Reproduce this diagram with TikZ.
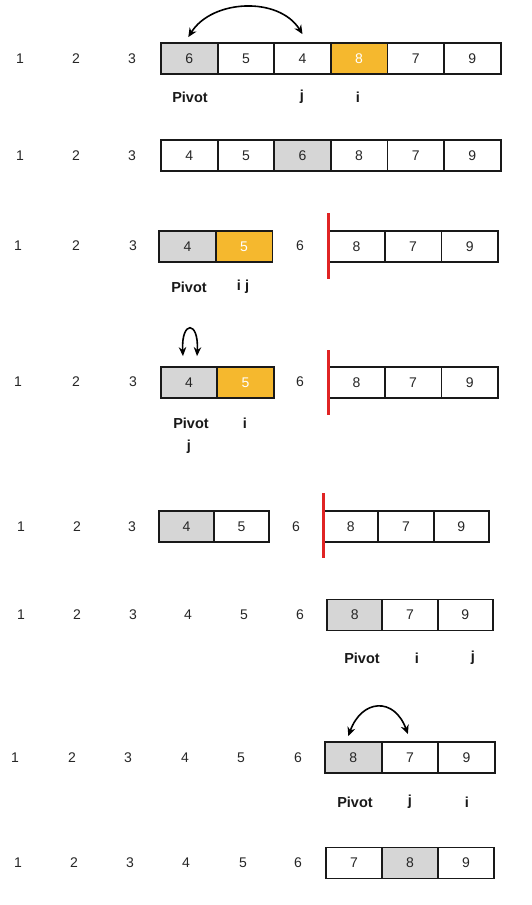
\documentclass[tikz,border=0pt]{standalone}
\usepackage{fontspec}
\setmainfont{Liberation Sans}
\usetikzlibrary{arrows.meta}
\definecolor{pivgray}{HTML}{D6D6D6}
\definecolor{swaporange}{HTML}{F5B82E}
\definecolor{cutred}{HTML}{E02424}
\begin{document}
\begin{tikzpicture}[x=1pt,y=-1pt,
  cellbox/.style={draw=black!90,line width=1.8pt,minimum width=56.6pt,minimum height=31pt,inner sep=0pt,font=\fontsize{14}{16}\selectfont,text=black!85},
  gcell/.style={cellbox,fill=pivgray},
  ocell/.style={cellbox,fill=swaporange,text=white},
  numtxt/.style={inner sep=0pt,font=\fontsize{14}{16}\selectfont,text=black!85},
  labtxt/.style={inner sep=0pt,font=\fontsize{14.5}{17}\selectfont\bfseries,text=black!90},
  swaparr/.style={line width=1.6pt,{Stealth[length=9pt,width=8pt]}-{Stealth[length=9pt,width=8pt]}},
  looparr/.style={line width=1.6pt,{Stealth[length=9pt,width=7.5pt]}-{Stealth[length=9pt,width=7.5pt]}},
  cutline/.style={draw=cutred,line width=2.2pt}]
\useasboundingbox[fill=white] (0,0) rectangle (531,905);

% ---------- Row 1 ----------
\node[numtxt] (r1n1) at (20,59) {1};
\node[numtxt] (r1n2) at (76,59) {2};
\node[numtxt] (r1n3) at (132,59) {3};
\node[gcell] (r1c1) at (189.3,58.5) {6};
\node[cellbox] (r1c2) at (245.9,58.5) {5};
\node[cellbox] (r1c3) at (302.5,58.5) {4};
\node[ocell] (r1c4) at (359.1,58.5) {8};
\node[cellbox] (r1c5) at (415.7,58.5) {7};
\node[cellbox] (r1c6) at (472.3,58.5) {9};
\node[labtxt] (r1p) at (190,97) {Pivot};
\node[labtxt] (r1j) at (302,97) {j};
\node[labtxt] (r1i) at (358,97) {i};
\draw[swaparr] ([xshift=-1pt,yshift=5pt]r1c1.north) to[out=58,in=122] ([yshift=8pt]r1c3.north);

% ---------- Row 2 ----------
\node[numtxt] (r2n1) at (20,156) {1};
\node[numtxt] (r2n2) at (76,156) {2};
\node[numtxt] (r2n3) at (132,156) {3};
\node[cellbox] (r2c1) at (189.3,155.5) {4};
\node[cellbox] (r2c2) at (245.9,155.5) {5};
\node[gcell] (r2c3) at (302.5,155.5) {6};
\node[cellbox] (r2c4) at (359.1,155.5) {8};
\node[cellbox] (r2c5) at (415.7,155.5) {7};
\node[cellbox] (r2c6) at (472.3,155.5) {9};

% ---------- Row 3 ----------
\node[numtxt] (r3n1) at (18,246) {1};
\node[numtxt] (r3n2) at (76,246) {2};
\node[numtxt] (r3n3) at (133,246) {3};
\node[gcell] (r3c1) at (187.5,246.5) {4};
\node[ocell] (r3c2) at (244.1,246.5) {5};
\node[numtxt] (r3n6) at (300,246) {6};
\node[cellbox] (r3c4) at (356.5,246.5) {8};
\node[cellbox] (r3c5) at (413.1,246.5) {7};
\node[cellbox] (r3c6) at (469.7,246.5) {9};
\coordinate (r3top) at (328.5,213);
\coordinate (r3bot) at (328.5,279);
\draw[cutline] (r3top) -- (r3bot);
\node[labtxt] (r3p) at (189,287) {Pivot};
\node[labtxt] (r3ij) at (243,287) {i j};

% ---------- Row 4 ----------
\node[numtxt] (r4n1) at (18,382) {1};
\node[numtxt] (r4n2) at (76,382) {2};
\node[numtxt] (r4n3) at (133,382) {3};
\node[gcell] (r4c1) at (189,382.5) {4};
\node[ocell] (r4c2) at (245.6,382.5) {5};
\node[numtxt] (r4n6) at (300,382) {6};
\node[cellbox] (r4c4) at (356.5,382.5) {8};
\node[cellbox] (r4c5) at (413.1,382.5) {7};
\node[cellbox] (r4c6) at (469.7,382.5) {9};
\coordinate (r4top) at (328.5,350);
\coordinate (r4bot) at (328.5,415);
\draw[cutline] (r4top) -- (r4bot);
\coordinate (r4a) at ([xshift=-6pt,yshift=10pt]r4c1.north);
\coordinate (r4b) at ([xshift=8pt,yshift=10pt]r4c1.north);
\draw[looparr] (r4a) .. controls ([xshift=-2pt,yshift=36pt]r4a) and ([xshift=2pt,yshift=36pt]r4b) .. (r4b);
\node[labtxt] (r4p) at (191,423) {Pivot};
\node[labtxt] (r4i) at (245,423) {i};
\node[labtxt] (r4j) at (189,447) {j};

% ---------- Row 5 ----------
\node[numtxt] (r5n1) at (21,527) {1};
\node[numtxt] (r5n2) at (77,527) {2};
\node[numtxt] (r5n3) at (132,527) {3};
\node[gcell,minimum width=55pt] (r5c1) at (186.5,526.5) {4};
\node[cellbox,minimum width=55pt] (r5c2) at (241.5,526.5) {5};
\node[numtxt] (r5n6) at (296,527) {6};
\node[cellbox,minimum width=55.3pt] (r5c4) at (350.7,526.5) {8};
\node[cellbox,minimum width=55.3pt] (r5c5) at (406,526.5) {7};
\node[cellbox,minimum width=55.3pt] (r5c6) at (461.3,526.5) {9};
\coordinate (r5top) at (323.5,493);
\coordinate (r5bot) at (323.5,558);
\draw[cutline] (r5top) -- (r5bot);

% ---------- Row 6 ----------
\node[numtxt] (r6n1) at (21,615) {1};
\node[numtxt] (r6n2) at (77,615) {2};
\node[numtxt] (r6n3) at (133,615) {3};
\node[numtxt] (r6n4) at (188,615) {4};
\node[numtxt] (r6n5) at (244,615) {5};
\node[numtxt] (r6n6) at (300,615) {6};
\node[gcell,minimum width=55.3pt] (r6c1) at (354.7,615) {8};
\node[cellbox,minimum width=55.3pt] (r6c2) at (410,615) {7};
\node[cellbox,minimum width=55.3pt] (r6c3) at (465.3,615) {9};
\node[labtxt] (r6p) at (362,658) {Pivot};
\node[labtxt] (r6i) at (417,658) {i};
\node[labtxt] (r6j) at (473,658) {j};

% ---------- Row 7 ----------
\node[numtxt] (r7n1) at (15,758) {1};
\node[numtxt] (r7n2) at (72,758) {2};
\node[numtxt] (r7n3) at (128,758) {3};
\node[numtxt] (r7n4) at (185,758) {4};
\node[numtxt] (r7n5) at (241,758) {5};
\node[numtxt] (r7n6) at (298,758) {6};
\node[gcell] (r7c1) at (353.3,757.5) {8};
\node[cellbox] (r7c2) at (409.9,757.5) {7};
\node[cellbox] (r7c3) at (466.5,757.5) {9};
\node[labtxt] (r7p) at (355,802) {Pivot};
\node[labtxt] (r7j) at (410,802) {j};
\node[labtxt] (r7i) at (467,802) {i};
\draw[swaparr] ([xshift=-5pt,yshift=5pt]r7c1.north) to[out=70,in=110,looseness=1.7] ([xshift=-2pt,yshift=7pt]r7c2.north);

% ---------- Row 8 ----------
\node[numtxt] (r8n1) at (18,863) {1};
\node[numtxt] (r8n2) at (74,863) {2};
\node[numtxt] (r8n3) at (130,863) {3};
\node[numtxt] (r8n4) at (186,863) {4};
\node[numtxt] (r8n5) at (243,863) {5};
\node[numtxt] (r8n6) at (298,863) {6};
\node[cellbox,minimum width=56pt] (r8c1) at (354,863) {7};
\node[gcell,minimum width=56pt] (r8c2) at (410,863) {8};
\node[cellbox,minimum width=56pt] (r8c3) at (466,863) {9};
\end{tikzpicture}
\end{document}
